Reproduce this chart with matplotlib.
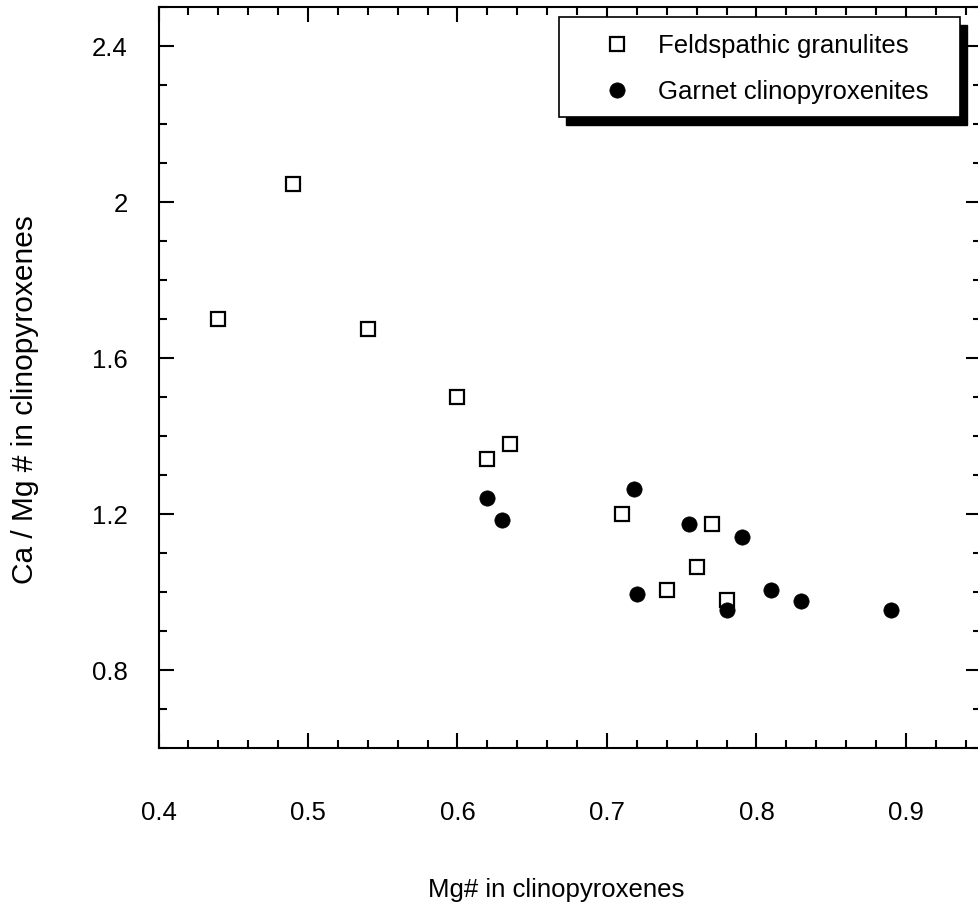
"""Ca/Mg# versus Mg# in clinopyroxenes for two xenolith groups."""
import matplotlib
matplotlib.use("Agg")
import matplotlib.pyplot as plt
from matplotlib.patches import Rectangle
from matplotlib.ticker import MultipleLocator, FixedLocator, FixedFormatter

plt.rcParams['font.family'] = ['Liberation Sans', 'DejaVu Sans']

## DATA
## ====
granulite_mg = [0.44, 0.49, 0.54, 0.60, 0.62, 0.635, 0.71, 0.74, 0.76, 0.77, 0.78]
granulite_ca_mg = [1.70, 2.045, 1.675, 1.50, 1.34, 1.38, 1.20, 1.005, 1.065, 1.175, 0.98]

pyroxenite_mg = [0.62, 0.63, 0.718, 0.72, 0.755, 0.78, 0.79, 0.81, 0.83, 0.89]
pyroxenite_ca_mg = [1.24, 1.185, 1.265, 0.995, 1.175, 0.955, 1.14, 1.005, 0.977, 0.955]

x_ticks = [0.4, 0.5, 0.6, 0.7, 0.8, 0.9]
x_tick_labels = ['0.4', '0.5', '0.6', '0.7', '0.8', '0.9']
y_ticks = [0.8, 1.2, 1.6, 2.0, 2.4]
y_tick_labels = ['0.8', '1.2', '1.6', '2', '2.4']

labels = ['Feldspathic granulites', 'Garnet clinopyroxenites']

## FIGURE
## ======
W, H = 979, 911
fig = plt.figure(figsize=(W / 100, H / 100), dpi=100)

# axes box in pixels (left, right, top, bottom)
L, R, T, B = 158.5, 980.7, 7.0, 748.0
ax = fig.add_axes([L / W, 1 - B / H, (R - L) / W, (B - T) / H])

FS = 18.5

ax.plot(granulite_mg, granulite_ca_mg, linestyle='none', marker='s', ms=9.5,
        mfc='white', mec='black', mew=1.6, label=labels[0], zorder=3)
ax.plot(pyroxenite_mg, pyroxenite_ca_mg, linestyle='none', marker='o', ms=11,
        mfc='black', mec='black', mew=0.5, label=labels[1], zorder=4)

ax.set_xlim(0.4, 0.95)
ax.set_ylim(0.6, 2.5)

ax.xaxis.set_major_locator(FixedLocator(x_ticks))
ax.xaxis.set_major_formatter(FixedFormatter(x_tick_labels))
ax.xaxis.set_minor_locator(MultipleLocator(0.02))
ax.yaxis.set_major_locator(FixedLocator(y_ticks))
ax.yaxis.set_major_formatter(FixedFormatter(y_tick_labels))
ax.yaxis.set_minor_locator(MultipleLocator(0.1))

ax.tick_params(which='both', direction='in', top=True, right=True, width=1.5, colors='black')
ax.tick_params(which='major', length=11)
ax.tick_params(which='minor', length=6)
ax.tick_params(axis='x', which='major', pad=38, labelsize=FS)
ax.tick_params(axis='y', which='major', pad=22, labelsize=FS)

for sp in ax.spines.values():
    sp.set_linewidth(1.5)

ax.set_xlabel('Mg# in clinopyroxenes', fontsize=FS, va='center')
ax.xaxis.set_label_coords((556 - L) / (R - L), (B - 890) / (B - T))
ax.set_ylabel('Ca / Mg # in clinopyroxenes', fontsize=21.5, va='center')
ax.yaxis.set_label_coords((25 - L) / (R - L), (B - 400) / (B - T))

# legend box with a solid black drop shadow
def ax_x(px):
    return (px - L) / (R - L)

def ax_y(py):
    return (B - py) / (B - T)

box_l, box_r, box_t, box_b = 559, 960, 17, 117
shadow = Rectangle((ax_x(box_l + 7), ax_y(box_b + 8)), ax_x(box_r) - ax_x(box_l),
                   ax_y(box_t) - ax_y(box_b), transform=ax.transAxes,
                   facecolor='black', edgecolor='black', zorder=6, clip_on=False)
box = Rectangle((ax_x(box_l), ax_y(box_b)), ax_x(box_r) - ax_x(box_l),
                ax_y(box_t) - ax_y(box_b), transform=ax.transAxes,
                facecolor='white', edgecolor='black', linewidth=1.2, zorder=7, clip_on=False)
ax.add_patch(shadow)
ax.add_patch(box)

leg = ax.legend(loc='upper left', bbox_to_anchor=(ax_x(591), ax_y(34)), borderaxespad=0,
                borderpad=0, frameon=False, fontsize=FS, handlelength=2.0,
                handletextpad=0.62, labelspacing=0.84, numpoints=1)
leg.set_zorder(8)

fig.savefig('out.png', dpi=100)
